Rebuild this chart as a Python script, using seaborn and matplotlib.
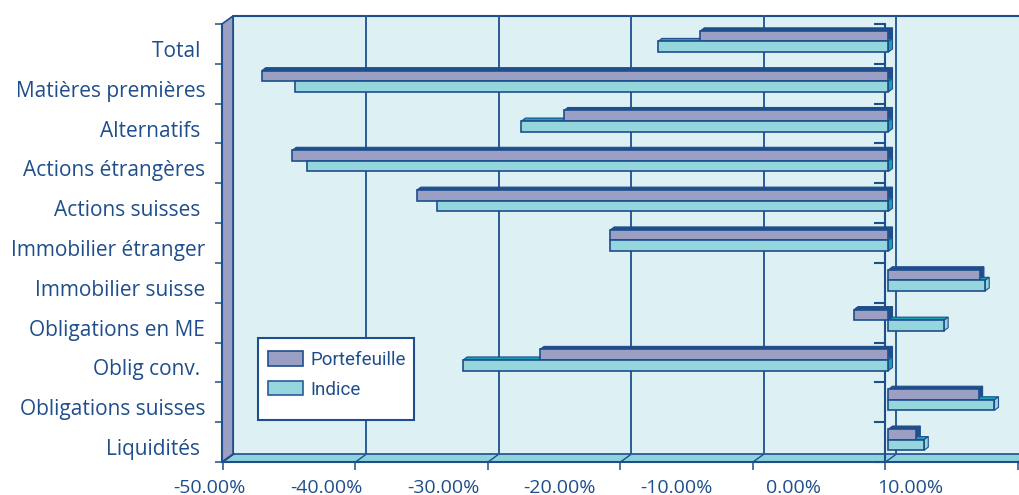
import numpy as np
import pandas as pd
import matplotlib
matplotlib.use('Agg')
import matplotlib.pyplot as plt
import seaborn as sns
from matplotlib.patches import Polygon, Rectangle, Patch
from matplotlib.transforms import ScaledTranslation, blended_transform_factory

plt.rcParams['font.family'] = ['Open Sans', 'DejaVu Sans']

# données (performances en %)
categories = ["Total ", "Matières premières", "Alternatifs ", "Actions étrangères",
              "Actions suisses ", "Immobilier étranger", "Immobilier suisse",
              "Obligations en ME", "Oblig conv. ", "Obligations suisses", "Liquidités "]
portefeuille = [-14.2, -47.3, -24.5, -45.0, -35.6, -21.0, 6.9, -2.6, -26.3, 6.8, 2.1]
indice = [-17.4, -44.8, -27.7, -43.9, -34.1, -21.0, 7.3, 4.2, -32.1, 8.0, 2.7]
series = ["Portefeuille", "Indice"]
tick_values = [-50, -40, -30, -20, -10, 0, 10]

df = pd.DataFrame({
    'categorie': categories * 2,
    'valeur': portefeuille + indice,
    'serie': [series[0]] * len(categories) + [series[1]] * len(categories),
})

DARK = '#1f4e8c'
GRID = '#2c5a98'
P_COL = '#9b9fc4'
I_COL = '#94d6dc'
WALL = '#ddf0f3'
FLOOR = '#8fd3da'
TEAL = '#18a3b5'

W, H = 1020, 495
fig = plt.figure(figsize=(W / 100, H / 100), dpi=100)
# plan avant du graphique 3D (pixels)
L, R, T, B = 222, 1020, 24, 462
ax = fig.add_axes([L / W, (H - B) / H, (R - L) / W, (B - T) / H])
ax.patch.set_visible(False)

sns.barplot(data=df, x='valeur', y='categorie', hue='serie', orient='h',
            palette={series[0]: P_COL, series[1]: I_COL}, saturation=1,
            width=0.53, edgecolor=DARK, linewidth=1.2, legend=False,
            zorder=3, ax=ax)

px_per_pct = 13.25
xmin = -50 - 1 / px_per_pct
xmax = xmin + (R - L) / px_per_pct
ax.set_xlim(xmin, xmax)
ax.set_ylim(len(categories) - 0.5, -0.5)
ax.set_xlabel('')
ax.set_ylabel('')

# profondeur du décor 3D
DX, DY = 11, 8
dxa, dya = DX / (R - L), DY / (B - T)

ax.add_patch(Rectangle((dxa, dya), 1, 1, transform=ax.transAxes, fc=WALL,
                       ec='none', zorder=0, clip_on=False))
ax.plot([dxa, dxa, 1 + dxa], [dya, 1 + dya, 1 + dya], transform=ax.transAxes,
        color=DARK, lw=1.5, zorder=0.5, clip_on=False)
ax.add_patch(Polygon([(0, 0), (1, 0), (1 + dxa, dya), (dxa, dya)], closed=True,
                     transform=ax.transAxes, fc=FLOOR, ec=DARK, lw=1.2,
                     zorder=0.6, clip_on=False))
ax.add_patch(Polygon([(0, 1), (dxa, 1 + dya), (dxa, dya), (0, 0)], closed=True,
                     transform=ax.transAxes, fc=P_COL, ec=DARK, lw=1.2,
                     zorder=0.6, clip_on=False))

# quadrillage sur le fond et sur le sol
for v in tick_values:
    xa = ax.transLimits.transform((v, 0))[0]
    if -50 < v <= 0:
        ax.plot([xa + dxa, xa + dxa], [dya, 1 + dya], transform=ax.transAxes,
                color=GRID, lw=1.4, zorder=1, clip_on=False)
    ax.plot([xa, xa + dxa], [0, dya], transform=ax.transAxes,
            color=DARK, lw=1, zorder=0.7, clip_on=False)

# axe des catégories à zéro
ax.axvline(0, color=DARK, lw=1.5, zorder=2)
x0a = ax.transLimits.transform((0, 0))[0]
bt = blended_transform_factory(ax.transAxes, ax.transData)
for b in np.arange(-0.5, len(categories)):
    ax.plot([x0a - 10 / (R - L), x0a], [b, b], transform=bt, color=DARK,
            lw=1.5, zorder=2, clip_on=False)

# effet 3D des barres
off = ScaledTranslation(3 / 100, 2.5 / 100, fig.dpi_scale_trans)
ddx = 4 / px_per_pct
ddy = -3 / ((B - T) / len(categories))
for k, cont in enumerate(ax.containers):
    for bar in cont:
        bar.set_transform(ax.transData + off)
        x, y, w, h = bar.get_x(), bar.get_y(), bar.get_width(), bar.get_height()
        x0, x1 = min(x, x + w), max(x, x + w)
        yt, yb = y, y + h
        if k == 0:
            top_c, side_c = DARK, DARK
        else:
            top_c = TEAL
            side_c = TEAL if w < 0 else I_COL
        ax.add_patch(Polygon([(x0, yt), (x1, yt), (x1 + ddx, yt + ddy), (x0 + ddx, yt + ddy)],
                             closed=True, transform=ax.transData + off, fc=top_c,
                             ec=DARK, lw=0.8, zorder=2.6))
        ax.add_patch(Polygon([(x1, yt), (x1 + ddx, yt + ddy), (x1 + ddx, yb + ddy), (x1, yb)],
                             closed=True, transform=ax.transData + off, fc=side_c,
                             ec=DARK, lw=0.8, zorder=2.6))

# axes
for s in ['top', 'right']:
    ax.spines[s].set_visible(False)
for s in ['left', 'bottom']:
    ax.spines[s].set_color(DARK)
    ax.spines[s].set_linewidth(1.5)

ax.set_yticks(np.arange(-0.5, len(categories)), labels=[])
ax.set_yticks(range(len(categories)), labels=categories, minor=True)
ax.tick_params(axis='y', which='major', length=5, width=1.1, color=DARK)
ax.tick_params(axis='y', which='minor', length=0, pad=12, labelsize=15,
               labelcolor=DARK)
for lab in ax.get_yticklabels(minor=True):
    lab.set_transform(lab.get_transform() + ScaledTranslation(0, -0.05, fig.dpi_scale_trans))

ax.set_xticks(tick_values, labels=[])
ax.tick_params(axis='x', length=6, width=1.1, color=DARK)

# étiquettes de l'axe des valeurs, placées comme dans l'original
a = ((911 - 886) - (210 - 886)) / px_per_pct / 60
b = (210 - 886) / px_per_pct + 50 * a
bx = blended_transform_factory(ax.transData, ax.transAxes)
for v in tick_values:
    ax.annotate(f'{v:.2f}%', xy=(a * v + b, 0), xycoords=bx, xytext=(0, -12),
                textcoords='offset points', ha='center', va='top', fontsize=14,
                color=DARK, annotation_clip=False)

# légende avec cadre dessiné à part
fig.patches.append(Rectangle((258 / W, 1 - 420 / H), 156 / W, 82 / H,
                             transform=fig.transFigure, fc='white', ec=DARK,
                             lw=1.5, zorder=4))
handles = [Patch(fc=P_COL, ec=DARK, lw=1.2, label=series[0]),
           Patch(fc=I_COL, ec=GRID, lw=1.2, label=series[1])]
leg = fig.legend(handles=handles, loc='upper left',
                 bbox_to_anchor=(268 / W, 1 - 351 / H), frameon=False,
                 borderaxespad=0, borderpad=0, handlelength=1.85,
                 handleheight=0.8, handletextpad=0.4, labelspacing=0.62,
                 prop={'family': ['Liberation Sans Narrow', 'Roboto'], 'size': 13.5})
leg.set_zorder(5)
for t in leg.get_texts():
    t.set_color(DARK)

fig.savefig('out.png', dpi=100)
